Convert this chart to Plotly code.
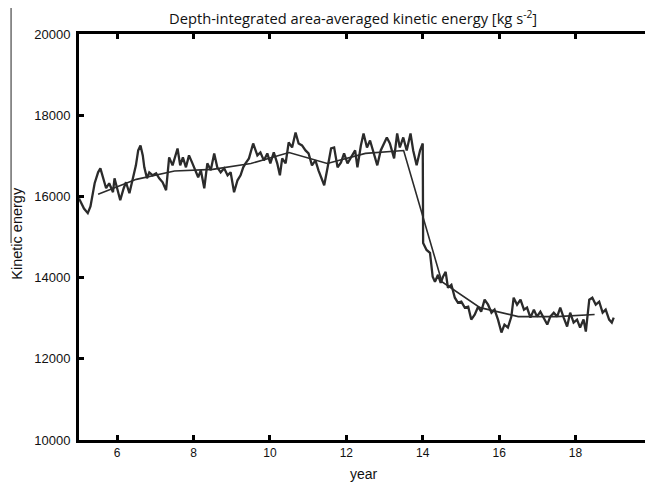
import plotly.graph_objects as go

# Noisy kinetic energy series (year, value)
year = [5.00, 5.06, 5.13, 5.23, 5.30, 5.41, 5.50, 5.56, 5.63, 5.71, 5.79, 5.89, 5.93,
        6.02, 6.08, 6.17, 6.23, 6.32, 6.41, 6.49, 6.55, 6.61, 6.67, 6.71, 6.78, 6.84, 6.93,
        7.02, 7.10, 7.19, 7.28, 7.32, 7.36, 7.45, 7.51, 7.58, 7.65, 7.72, 7.80, 7.88, 7.97,
        8.06, 8.12, 8.19, 8.28, 8.36, 8.45, 8.54, 8.62, 8.71, 8.80, 8.89, 8.97,
        9.06, 9.15, 9.23, 9.30, 9.36, 9.45, 9.56, 9.67, 9.75, 9.84, 9.93,
        10.01, 10.10, 10.19, 10.26, 10.32, 10.41, 10.49, 10.58, 10.67, 10.75, 10.84, 10.93,
        11.01, 11.10, 11.19, 11.27, 11.36, 11.42, 11.51, 11.60, 11.68, 11.77, 11.86, 11.94,
        12.03, 12.12, 12.23, 12.29, 12.38, 12.45, 12.54, 12.62, 12.71, 12.81, 12.90, 12.99,
        13.06, 13.14, 13.25, 13.33, 13.40, 13.49, 13.58, 13.68, 13.75, 13.84, 13.93, 14.00,
        14.01, 14.10, 14.19, 14.26, 14.32, 14.40, 14.47, 14.53, 14.60, 14.66, 14.75, 14.84, 14.92,
        15.01, 15.10, 15.19, 15.27, 15.36, 15.45, 15.53, 15.62, 15.71, 15.80, 15.88, 15.97,
        16.06, 16.14, 16.23, 16.32, 16.38, 16.47, 16.56, 16.65, 16.73, 16.82, 16.91, 16.99,
        17.08, 17.17, 17.26, 17.34, 17.43, 17.52, 17.60, 17.69, 17.78, 17.86, 17.95,
        18.04, 18.12, 18.21, 18.27, 18.36, 18.44, 18.53, 18.62, 18.71, 18.79, 18.88, 18.95, 19.00]

ke = [15950, 15830, 15700, 15588, 15750, 16324, 16593, 16691, 16471, 16201, 16324, 16103, 16446,
      16078, 15907, 16201, 16348, 16078, 16471, 16765, 17132, 17255, 17010, 16716, 16446, 16593, 16520,
      16569, 16446, 16348, 16152, 16569, 16961, 16765, 16936, 17181, 16765, 16961, 16716, 17010, 16814,
      16593, 16471, 16642, 16201, 16814, 16642, 17059, 16716, 16593, 16691, 16520, 16593,
      16103, 16397, 16520, 16716, 16814, 16936, 17304, 17010, 17083, 16887, 17059,
      16814, 17083, 16814, 16520, 16936, 16814, 17328, 17206, 17574, 17304, 17255, 17132,
      17059, 16765, 16887, 16642, 16446, 16275, 16716, 17181, 17206, 16716, 16838, 17059,
      16814, 16961, 17132, 16716, 17255, 17549, 17206, 17378, 17059, 16765, 17132, 17304,
      17451, 17304, 16936, 17549, 17206, 17451, 17132, 17549, 17132, 16765, 17132, 17304,
      14853, 14681, 14608, 14020, 13897, 14069, 13873, 14020, 14142, 13750, 13824, 13505, 13382,
      13407, 13260, 13284, 12966, 13088, 13284, 13162, 13456, 13333, 13137, 13211, 12966,
      12647, 12843, 12770, 13039, 13505, 13333, 13456, 13211, 13260, 13015, 13211, 13039,
      13162, 13015, 12843, 13039, 13137, 13039, 13260, 13015, 12794, 13137, 12892,
      12966, 12770, 12966, 12672, 13456, 13505, 13333, 13407, 13137, 13211, 12966, 12892, 13015]

# Annual means (plotted at mid-year)
mean_year = [5.5, 6.5, 7.5, 8.5, 9.5, 10.5, 11.5, 12.5, 13.5, 14.5, 15.5, 16.5, 17.5, 18.5]
mean_ke = [16054, 16420, 16625, 16665, 16810, 17080, 16810, 17060, 17130,
           13900, 13260, 13040, 13040, 13090]

x_ticks = [6, 8, 10, 12, 14, 16, 18]
y_ticks = [10000, 12000, 14000, 16000, 18000, 20000]

line_col = "#2b2b2b"
helv = "Liberation Sans, Arial, Helvetica, sans-serif"
xtick_font = dict(family=helv, size=12, color="#111")
ytick_font = dict(family=helv, size=13, color="#111")

fig = go.Figure()
fig.add_trace(go.Scatter(x=year, y=ke, mode="lines",
                         line=dict(color=line_col, width=2.3), showlegend=False))
fig.add_trace(go.Scatter(x=mean_year, y=mean_ke, mode="lines",
                         line=dict(color=line_col, width=1.6), showlegend=False))

# the page adds an 8px body margin, so the figure is sized 8px smaller
fig.update_layout(
    width=645, height=475,
    margin=dict(l=71, r=3, t=26, b=43, autoexpand=False),
    paper_bgcolor="white", plot_bgcolor="white",
    xaxis=dict(range=[5, 19.95], tickvals=x_ticks, tickformat="d", ticks="inside",
               ticklen=5, tickwidth=3, tickcolor="black", showline=True,
               linecolor="black", linewidth=3, mirror="ticks", showgrid=False,
               zeroline=False, tickfont=xtick_font, automargin=False),
    yaxis=dict(range=[10000, 20000], tickvals=y_ticks, tickformat="d", ticks="inside",
               ticklen=5, tickwidth=2.5, tickcolor="black", showline=True,
               linecolor="black", linewidth=3, mirror="ticks", showgrid=False,
               zeroline=False, tickfont=ytick_font, automargin=False,
               ticklabelstandoff=3),
    annotations=[
        dict(text="Depth-integrated area-averaged kinetic energy [kg s<sup>-2</sup>]",
             xref="paper", yref="paper", x=0.48, y=1.041,
             xanchor="center", yanchor="middle", showarrow=False,
             font=dict(family="Open Sans", size=14.7, color="#111")),
        dict(text="year", xref="paper", yref="paper", x=0.499, y=-0.084,
             xanchor="center", yanchor="middle", showarrow=False,
             font=dict(family=helv, size=14, color="#111")),
        dict(text="Kinetic energy", xref="paper", yref="paper", x=-0.109, y=0.51,
             xanchor="center", yanchor="middle", textangle=-90, showarrow=False,
             font=dict(family=helv, size=14.5, color="#111")),
    ],
)

# thin vertical line at the left edge seen in the picture
fig.add_shape(type="line", xref="paper", yref="paper",
              x0=-0.119, x1=-0.119, y0=0.485, y1=1.064,
              line=dict(color="#222", width=1))

fig.write_html("out.html")
